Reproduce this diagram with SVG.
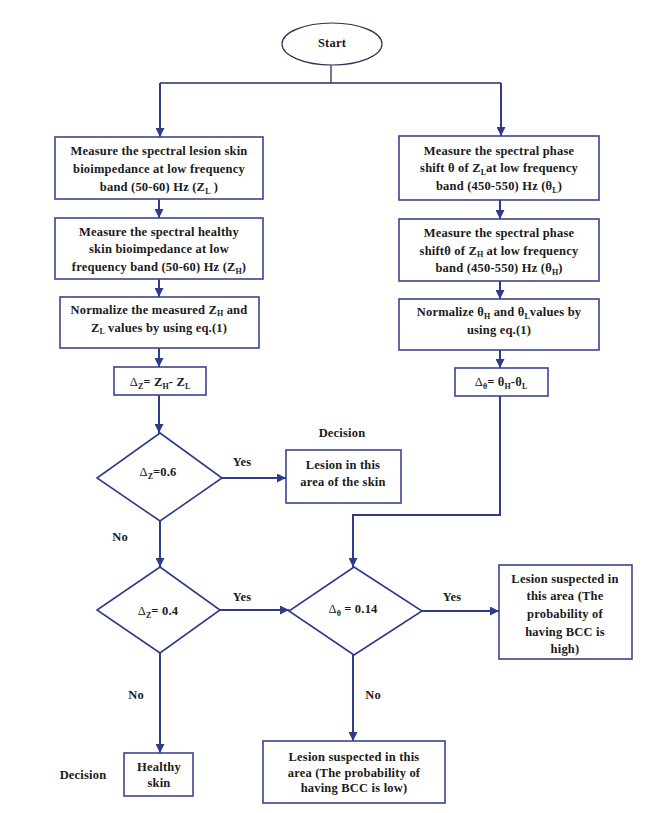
<svg xmlns="http://www.w3.org/2000/svg" width="651" height="813" viewBox="0 0 651 813">
<defs>
<marker id="ah" viewBox="0 0 10 10" refX="10" refY="5" markerWidth="9" markerHeight="9" markerUnits="userSpaceOnUse" orient="auto">
<path d="M0,0 L10,5 L0,10 z" fill="#2f3a8a"/>
</marker>
</defs>
<style>
.box{fill:#fff;stroke:#3a4490;stroke-width:1.6}
.dia{fill:#fff;stroke:#2f3a8a;stroke-width:1.6}
.ell{fill:#fff;stroke:#2a2f5a;stroke-width:1.2}
.c{fill:none;stroke:#2f3a8a;stroke-width:2}
.thin{fill:none;stroke:#2a2f5a;stroke-width:1.3}
text{font-family:"Liberation Serif","Times New Roman",serif;font-weight:bold;font-size:12.5px;letter-spacing:0.2px;fill:#1a1a1a;text-anchor:middle}
.s{font-size:8px;letter-spacing:0}
</style>
<rect width="651" height="813" fill="#fff"/>
<g id="connectors">
<path class="thin" d="M331,65 V83 M160,83 H501"/>
<path class="c" d="M160,83 V137" marker-end="url(#ah)"/>
<path class="c" d="M501,83 V136" marker-end="url(#ah)"/>
<path class="c" d="M159,199 V218" marker-end="url(#ah)"/>
<path class="c" d="M159,279 V297" marker-end="url(#ah)"/>
<path class="c" d="M159,348 V367" marker-end="url(#ah)"/>
<path class="c" d="M159,395 V433" marker-end="url(#ah)"/>
<path class="c" d="M500,200 V219" marker-end="url(#ah)"/>
<path class="c" d="M500,281 V299" marker-end="url(#ah)"/>
<path class="c" d="M500,350 V368" marker-end="url(#ah)"/>
<path class="c" d="M500,396 V515 H353 V567" marker-end="url(#ah)"/>
<path class="c" d="M222,478 H286" marker-end="url(#ah)"/>
<path class="c" d="M160,521 V567" marker-end="url(#ah)"/>
<path class="c" d="M220,610 H289" marker-end="url(#ah)"/>
<path class="c" d="M422,611 H499" marker-end="url(#ah)"/>
<path class="c" d="M160,653 V753" marker-end="url(#ah)"/>
<path class="c" d="M353,655 V741" marker-end="url(#ah)"/>
<text x="242" y="466">Yes</text>
<text x="120" y="541">No</text>
<text x="242" y="601">Yes</text>
<text x="452" y="601">Yes</text>
<text x="136" y="699">No</text>
<text x="373" y="699">No</text>
</g>
<g id="start">
<ellipse class="ell" cx="332" cy="44" rx="50" ry="21"/>
<text x="332" y="47">Start</text>
</g>
<g id="measureZL">
<rect class="box" x="55" y="137" width="208" height="62"/>
<text x="159" y="155">Measure the spectral lesion skin</text>
<text x="159" y="173">bioimpedance at low frequency</text>
<text x="159" y="191">band (50-60) Hz (Z<tspan class="s" dy="3">L</tspan><tspan dy="-3"> )</tspan></text>
</g>
<g id="measureZH">
<rect class="box" x="55" y="218" width="208" height="61"/>
<text x="159" y="236">Measure the spectral healthy</text>
<text x="159" y="253">skin bioimpedance at low</text>
<text x="159" y="271">frequency band (50-60) Hz (Z<tspan class="s" dy="3">H</tspan><tspan dy="-3">)</tspan></text>
</g>
<g id="normZ">
<rect class="box" x="60" y="297" width="199" height="51"/>
<text x="159" y="314">Normalize the measured Z<tspan class="s" dy="2">H</tspan><tspan dy="-2"> and</tspan></text>
<text x="159" y="332">Z<tspan class="s" dy="2">L</tspan><tspan dy="-2"> values by using eq.(1)</tspan></text>
</g>
<g id="deltaZ">
<rect class="box" x="114" y="367" width="92" height="28"/>
<text x="160" y="386"><tspan font-weight="normal">Δ</tspan><tspan class="s" dy="3">Z</tspan><tspan dy="-3">= Z</tspan><tspan class="s" dy="3">H</tspan><tspan dy="-3">- Z</tspan><tspan class="s" dy="3">L</tspan></text>
</g>
<g id="measureThetaL">
<rect class="box" x="399" y="136" width="200" height="64"/>
<text x="499" y="155">Measure the spectral phase</text>
<text x="499" y="172">shift θ of Z<tspan class="s" dy="3">L</tspan><tspan dy="-3">at low frequency</tspan></text>
<text x="499" y="190">band (450-550) Hz (θ<tspan class="s" dy="3">L</tspan><tspan dy="-3">)</tspan></text>
</g>
<g id="measureThetaH">
<rect class="box" x="399" y="219" width="200" height="62"/>
<text x="499" y="237">Measure the spectral phase</text>
<text x="499" y="255">shiftθ of Z<tspan class="s" dy="2">H</tspan><tspan dy="-2"> at low frequency</tspan></text>
<text x="499" y="272">band (450-550) Hz (θ<tspan class="s" dy="3">H</tspan><tspan dy="-3">)</tspan></text>
</g>
<g id="normTheta">
<rect class="box" x="399" y="299" width="200" height="51"/>
<text x="499" y="316">Normalize θ<tspan class="s" dy="3">H</tspan><tspan dy="-3"> and θ</tspan><tspan class="s" dy="3">L</tspan><tspan dy="-3">values by</tspan></text>
<text x="499" y="334">using eq.(1)</text>
</g>
<g id="deltaTheta">
<rect class="box" x="455" y="368" width="93" height="28"/>
<text x="501" y="386"><tspan font-weight="normal">Δ</tspan><tspan class="s" dy="3">θ</tspan><tspan dy="-3">= θ</tspan><tspan class="s" dy="3">H</tspan><tspan dy="-3">-θ</tspan><tspan class="s" dy="3">L</tspan></text>
</g>
<g id="decision1">
<polygon class="dia" points="160,433 222,478 160,521 97,478"/>
<text x="158" y="476"><tspan font-weight="normal">Δ</tspan><tspan class="s" dy="3">Z</tspan><tspan dy="-3">=0.6</tspan></text>
</g>
<g id="lesionBox">
<text x="342" y="437">Decision</text>
<rect class="box" x="286" y="450" width="115" height="53"/>
<text x="343" y="469">Lesion in this</text>
<text x="343" y="486">area of the skin</text>
</g>
<g id="decision2">
<polygon class="dia" points="160,567 220,610 160,653 97,610"/>
<text x="158" y="615"><tspan font-weight="normal">Δ</tspan><tspan class="s" dy="3">Z</tspan><tspan dy="-3">= 0.4</tspan></text>
</g>
<g id="decision3">
<polygon class="dia" points="354,567 422,611 354,655 289,611"/>
<text x="353" y="613"><tspan font-weight="normal">Δ</tspan><tspan class="s" dy="3">θ</tspan><tspan dy="-3"> = 0.14</tspan></text>
</g>
<g id="highBox">
<rect class="box" x="499" y="565" width="133" height="94"/>
<text x="565" y="583">Lesion suspected in</text>
<text x="565" y="600">this area (The</text>
<text x="565" y="618">probability of</text>
<text x="565" y="636">having BCC is</text>
<text x="565" y="653">high)</text>
</g>
<g id="healthyBox">
<text x="83" y="779">Decision</text>
<rect class="box" x="124" y="753" width="69" height="43"/>
<text x="159" y="771">Healthy</text>
<text x="159" y="787">skin</text>
</g>
<g id="lowBox">
<rect class="box" x="263" y="741" width="182" height="62"/>
<text x="354" y="761">Lesion suspected in this</text>
<text x="354" y="777">area (The probability of</text>
<text x="354" y="792">having BCC is low)</text>
</g>
</svg>
